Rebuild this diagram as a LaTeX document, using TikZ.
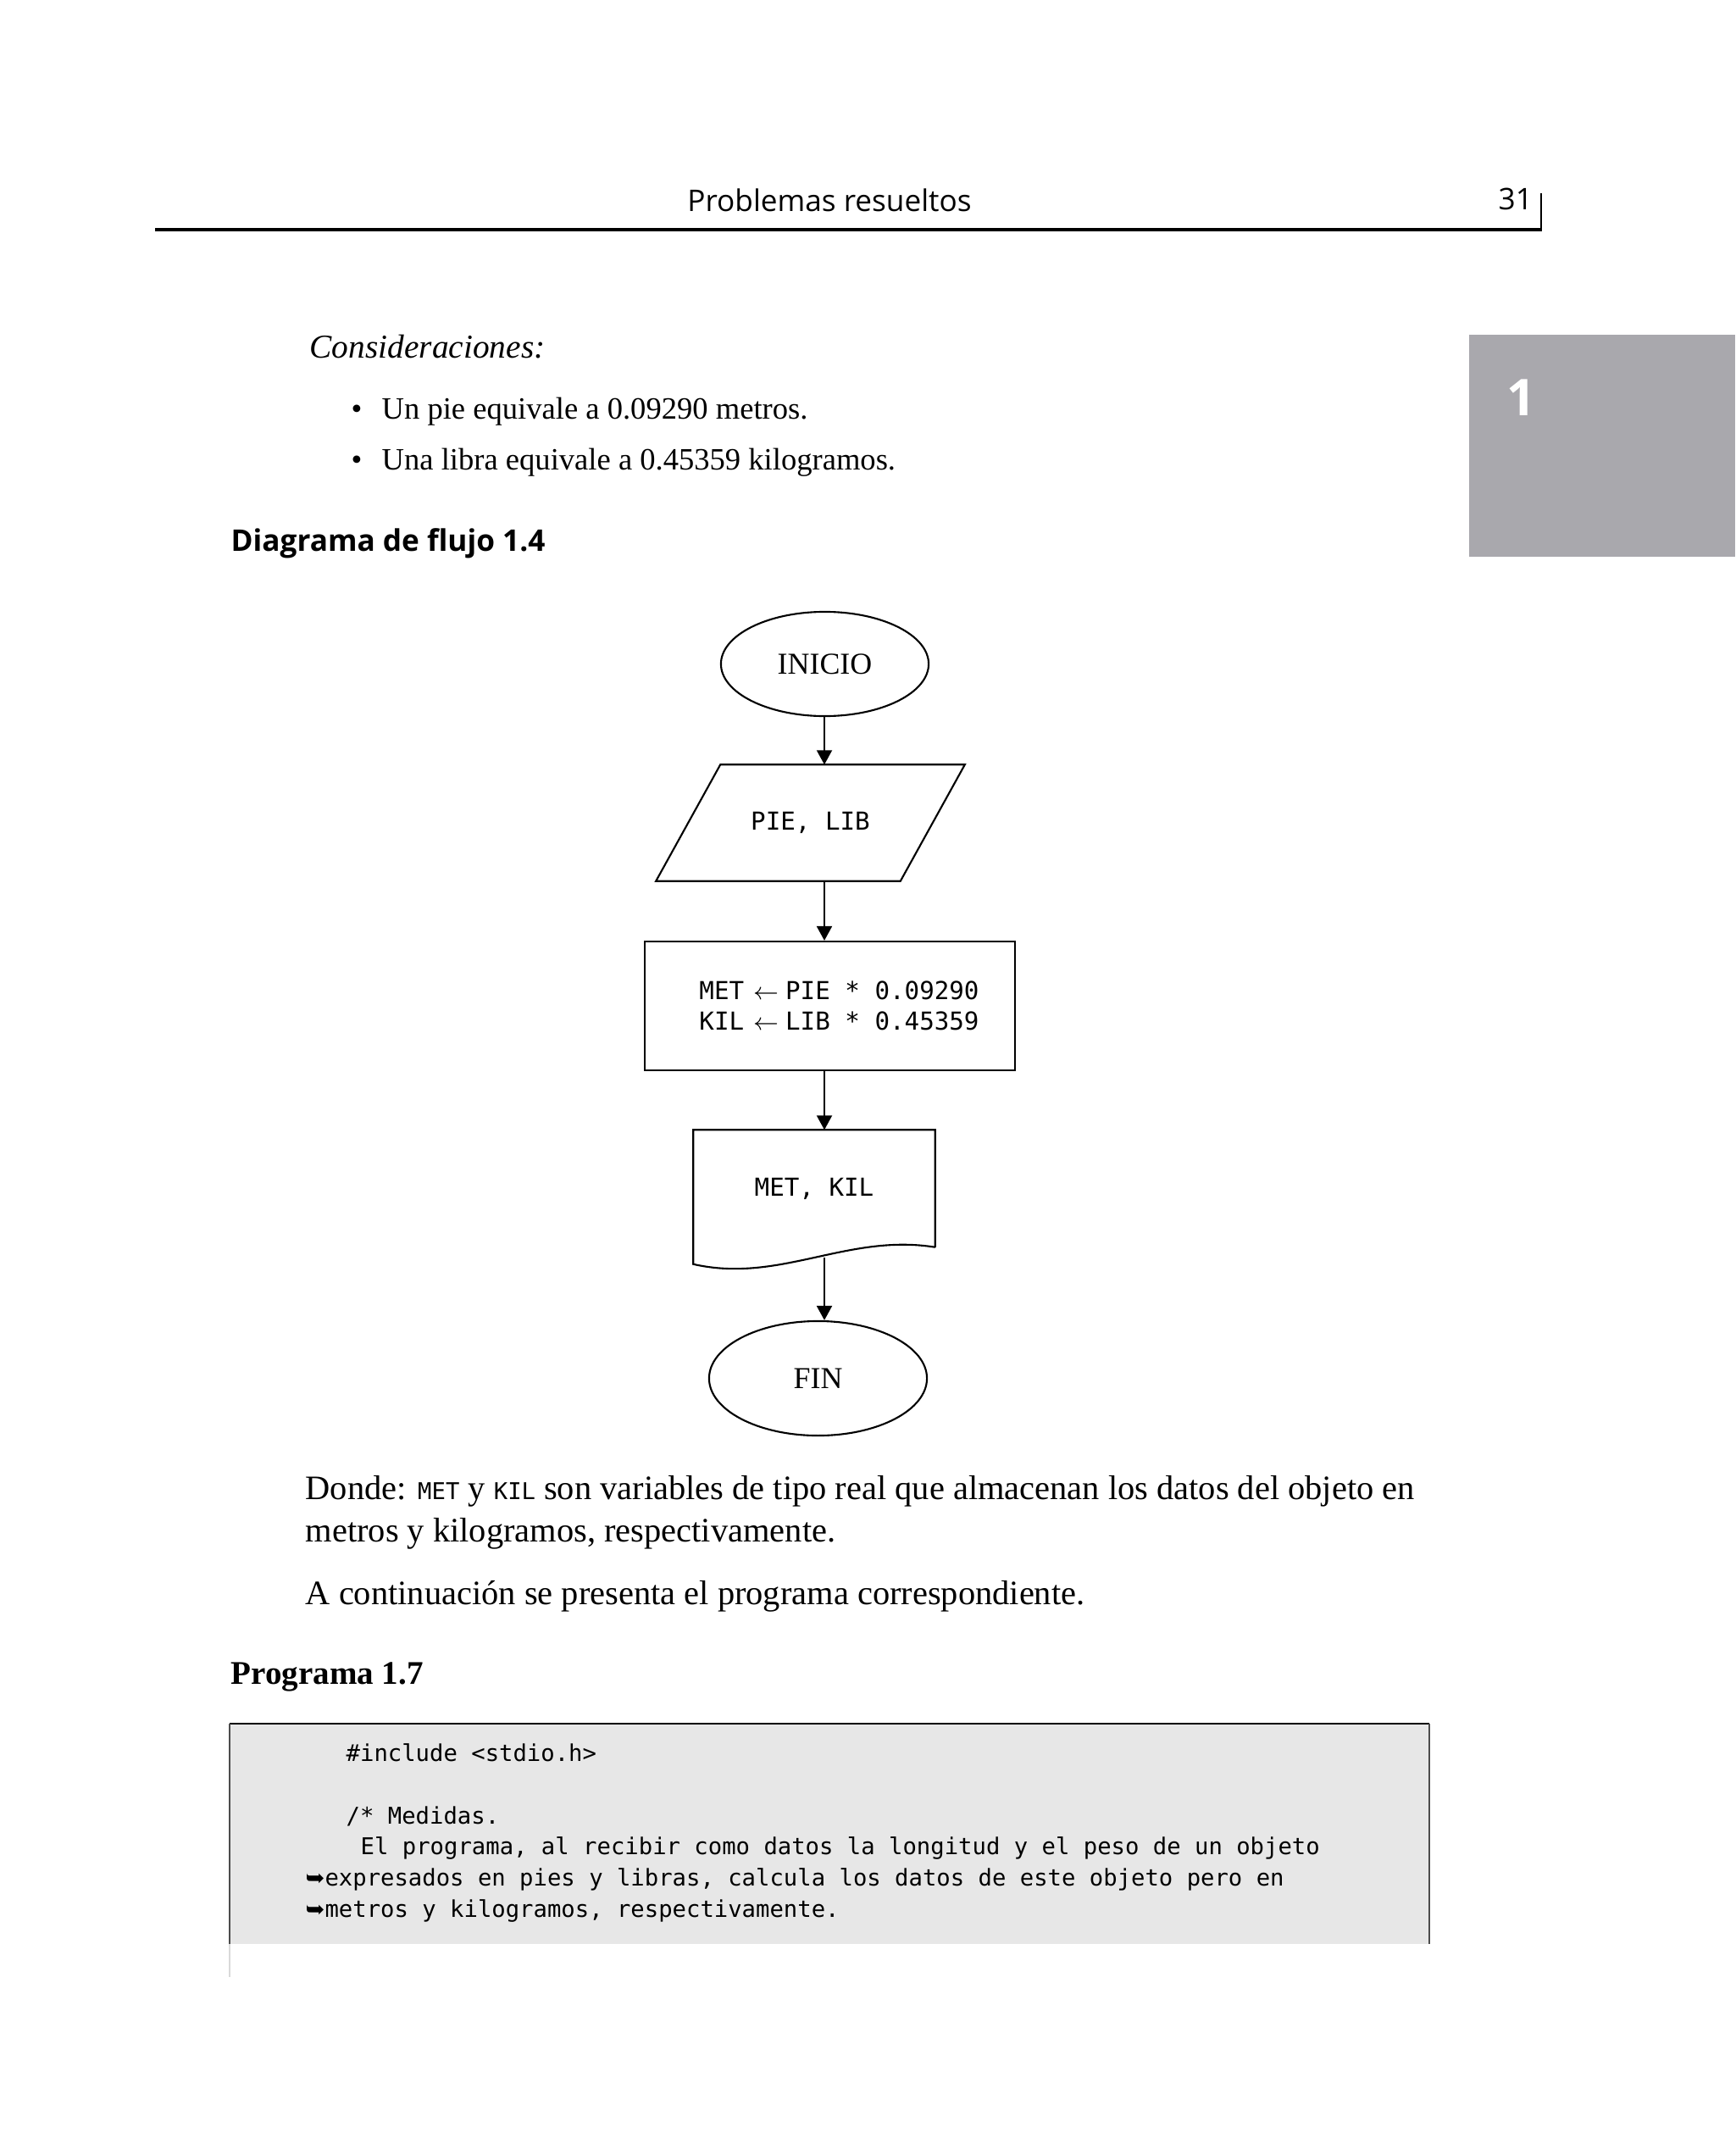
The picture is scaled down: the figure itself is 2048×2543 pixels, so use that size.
\documentclass[tikz,border=0pt]{standalone}
\usepackage{fontspec}
\setmainfont{Liberation Serif}
\newfontfamily\headfont{Open Sans}
\newfontfamily\monofont{DejaVu Sans Mono}
\newfontfamily\symfont{DejaVu Sans}
\usetikzlibrary{arrows.meta,shapes.geometric}

\definecolor{tabgray}{HTML}{A9A8AD}
\definecolor{codegray}{HTML}{E7E7E7}

\newcommand{\bodysize}{\fontsize{11.5}{14.2}\selectfont}
\newcommand{\flowmono}{\monofont\fontsize{8.3}{10.2}\selectfont}
\newcommand{\codesize}{\monofont\fontsize{7.75}{10}\selectfont}
\newcommand{\asigna}{\hspace{0.11cm}{\fontsize{7.6}{9}\selectfont$\leftarrow$}\hspace{0.08cm}}

\tikzset{
  txt/.style={inner sep=0pt, anchor=base west},
  flow/.style={line width=0.6pt, -{Triangle[length=0.17cm,width=0.18cm]}},
  terminal/.style={draw, ellipse, line width=0.6pt, inner sep=0pt,
    font=\fontsize{10.2}{12}\selectfont},
  process/.style={draw, rectangle, line width=0.6pt, inner sep=0pt,
    align=center, font=\flowmono},
  blank/.style={rectangle, inner sep=0pt, font=\flowmono}
}

\begin{document}
\begin{tikzpicture}[x=0.01cm, y=-0.01cm]
      \fill[white] (0,0) rectangle (2048,2543);
      \useasboundingbox (0,0) rectangle (2048,2543);

      \node[inner sep=0pt, anchor=base, font=\headfont\fontsize{10}{12}\selectfont] (head) at (979,250) {Problemas resueltos};
      \node[txt, font=\headfont\fontsize{10}{12}\selectfont] (page) at (1768,248) {31};
      \draw[line width=0.9pt] (183,271) -- (1820,271);
      \draw[line width=0.5pt] (1819,228) -- (1819,271);

      \fill[tabgray] (1734,395) rectangle (2048,657);
      \node[txt, text=white, font=\headfont\bfseries\fontsize{17}{20}\selectfont] (chap) at (1778,491) {1};

      \node[txt, font=\itshape\fontsize{11.2}{14}\selectfont] (cons) at (365,423) {Consideraciones:};
      \node[txt, font=\fontsize{10.4}{13}\selectfont] (bul1) at (414,495) {\textbullet};
      \node[txt, font=\fontsize{10.4}{13}\selectfont] (cons1) at (450,495) {Un pie equivale a 0.09290 metros.};
      \node[txt, font=\fontsize{10.4}{13}\selectfont] (bul2) at (414,555) {\textbullet};
      \node[txt, font=\fontsize{10.4}{13}\selectfont] (cons2) at (450,555) {Una libra equivale a 0.45359 kilogramos.};

      \node[txt, font=\headfont\bfseries\fontsize{10}{12}\selectfont] (diag) at (272,650) {Diagrama de flujo 1.4};

      \coordinate (axis) at (973,0);

      \node[terminal, minimum width=2.45cm, minimum height=1.23cm] (inicio) at (973.5,783.5) {INICIO};
      \node[blank, minimum width=2.87cm, minimum height=1.36cm] (datos) at (956.5,971) {PIE, LIB};
      \node[process, minimum width=4.37cm, minimum height=1.52cm] (calc) at (979.5,1187)
        {\hspace*{0.22cm}MET\asigna PIE * 0.09290\\\hspace*{0.22cm}KIL\asigna LIB * 0.45359};
      \node[blank, minimum width=2.84cm, minimum height=1.37cm] (salida) at (961,1402.5) {MET, KIL};
      \node[terminal, minimum width=2.57cm, minimum height=1.35cm] (fin) at (965.5,1626.5) {FIN};

      \draw[line width=0.6pt] ([xshift=0.38cm]datos.north west) -- ([xshift=0.38cm]datos.north east)
        -- ([xshift=-0.38cm]datos.south east) -- ([xshift=-0.38cm]datos.south west) -- cycle;
      \draw[line width=0.6pt] (salida.south east) -- (salida.north east) -- (salida.north west)
        -- ([yshift=-0.2cm]salida.south west) .. controls (920,1515) and (1000,1455) .. (salida.south east);
      \coordinate (wave) at (973,1484);

      \draw[flow] (axis |- inicio.south) -- (axis |- datos.north);
      \draw[flow] (axis |- datos.south) -- (axis |- calc.north);
      \draw[flow] (axis |- calc.south) -- (axis |- salida.north);
      \draw[flow] (wave) -- (axis |- fin.north);

      \node[txt, font=\bodysize] (donde1) at (360,1769)
        {Donde: {\codesize MET} y {\codesize KIL} son variables de tipo real que almacenan los datos del objeto en};
      \node[txt, font=\bodysize] (donde2) at (360,1819) {metros y kilogramos, respectivamente.};
      \node[txt, font=\bodysize] (sigue) at (360,1893) {A continuación se presenta el programa correspondiente.};

      \node[txt, font=\bfseries\fontsize{11.1}{14}\selectfont] (prog) at (272,1987) {Programa 1.7};

      \fill[codegray] (271,2034) rectangle (1687,2294);
      \draw[line width=0.8pt] (271,2034) -- (1687,2034);
      \draw[line width=0.4pt, black!70] (271,2034) -- (271,2294);
      \draw[line width=0.4pt, black!15] (271,2294) -- (271,2333);
      \draw[line width=0.4pt, black!70] (1687,2034) -- (1687,2294);

      \node[txt, font=\codesize] (code1) at (408,2078) {\#include <stdio.h>};
      \node[txt, font=\codesize] (code2) at (408,2152) {/* Medidas.};
      \node[txt, font=\codesize] (code3) at (425,2188) {El programa, al recibir como datos la longitud y el peso de un objeto};
      \node[txt, font=\codesize] (code4) at (360,2225) {{\symfont ➥}expresados en pies y libras, calcula los datos de este objeto pero en};
      \node[txt, font=\codesize] (code5) at (360,2262) {{\symfont ➥}metros y kilogramos, respectivamente.};

    \end{tikzpicture}
\end{document}
